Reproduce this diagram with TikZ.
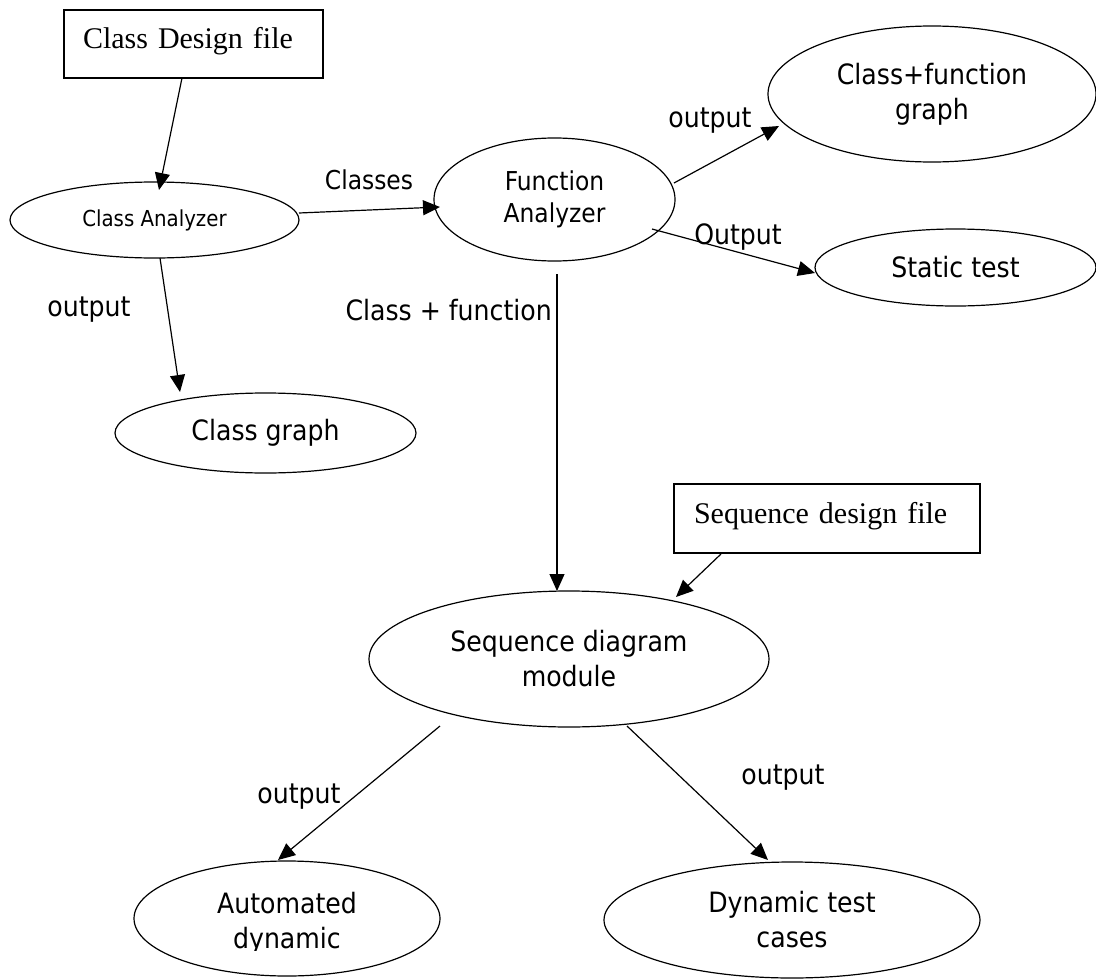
\documentclass[tikz,border=0pt]{standalone}
\usepackage{fontspec}
\setmainfont{DejaVu Sans Condensed}
\newfontfamily\seriffont{Liberation Serif}
\usetikzlibrary{shapes.geometric,arrows.meta}
\begin{document}
\begin{tikzpicture}[x=1pt,y=1pt,
  ell/.style={draw, ellipse, line width=1.2pt, inner sep=0pt, align=center, font=\fontsize{28}{35}\selectfont},
  filebox/.style={draw, rectangle, line width=1.2pt, inner ysep=0pt, align=left, font=\seriffont\fontsize{30}{36}\selectfont},
  conn/.style={line width=1.2pt, -{Triangle[length=17pt,width=15pt]}},
  lbl/.style={inner sep=0pt, font=\fontsize{28}{34}\selectfont}]
\useasboundingbox (0,0) rectangle (1096,-980);

% nodes
\node[filebox, inner xsep=19pt, text width=221pt, text height=38pt, text depth=30pt] (box1) at (193.5,-44) {Class Design file};
\node[ell, minimum width=289pt, minimum height=76pt, font=\fontsize{22}{27}\selectfont] (CA) at (154.5,-220) {Class Analyzer};
\node[ell, minimum width=241pt, minimum height=123pt, font=\fontsize{26}{32}\selectfont] (FA) at (554.5,-199.5) {Function\\Analyzer};
\node[ell, minimum width=328pt, minimum height=136pt] (CF) at (932,-94) {Class+function\\graph};
\node[ell, minimum width=281pt, minimum height=77pt] (ST) at (955.5,-267.5) {Static test};
\node[ell, minimum width=301pt, minimum height=80pt] (CG) at (265.5,-433) {Class graph};
\node[filebox, inner xsep=20pt, text width=266pt, text height=39pt, text depth=30pt] (box2) at (827,-518.5) {Sequence design file};
\node[ell, minimum width=400pt, minimum height=136pt] (SD) at (569,-659) {Sequence diagram\\module};
\node[ell, minimum width=306pt, minimum height=115pt] (AD) at (287,-918.5) {};
\begin{scope}
  \clip (130,-850) rectangle (445,-950);
  \node[inner sep=0pt, align=center, font=\fontsize{28}{35}\selectfont] (ADtext) at (287,-923) {Automated\\dynamic};
\end{scope}
\node[ell, minimum width=376pt, minimum height=116pt] (DT) at (792,-920) {Dynamic test\\cases};

% labels
\node[lbl, font=\fontsize{26}{31}\selectfont] (lClasses) at (369,-180) {Classes};
\node[lbl] (lout1) at (89,-310) {output};
\node[lbl, anchor=east] (lcf) at (552,-310) {Class + function};
\node[lbl] (lout2) at (710,-121) {output};
\node[lbl] (lOut) at (738,-237) {Output};
\node[lbl] (lout3) at (299,-797) {output};
\node[lbl] (lout4) at (783,-778) {output};

% connectors
\draw[conn] ([shift={(-11.5,-34)}]box1.center) -- ([shift={(4.5,30)}]CA.center);
\draw[conn] ([shift={(144.5,7)}]CA.center) -- ([shift={(-114.5,-7.5)}]FA.center);
\draw[conn] ([shift={(5.5,-38)}]CA.center) -- ([shift={(-85.5,41)}]CG.center);
\draw[conn] ([shift={(119.5,16.5)}]FA.center) -- ([shift={(-153,-32)}]CF.center);
\draw[conn] ([shift={(97.5,-29.5)}]FA.center) -- ([shift={(-140.5,-5.5)}]ST.center);
\draw[conn] ([shift={(2.5,-74.5)}]FA.center) -- ([shift={(-12,68)}]SD.center);
\draw[conn] ([shift={(-106,-35.5)}]box2.center) -- ([shift={(107,62)}]SD.center);
\draw[conn] ([shift={(-129,-67)}]SD.center) -- ([shift={(-9,58.5)}]AD.center);
\draw[conn] ([shift={(58,-67)}]SD.center) -- ([shift={(-24,60)}]DT.center);
\end{tikzpicture}
\end{document}
